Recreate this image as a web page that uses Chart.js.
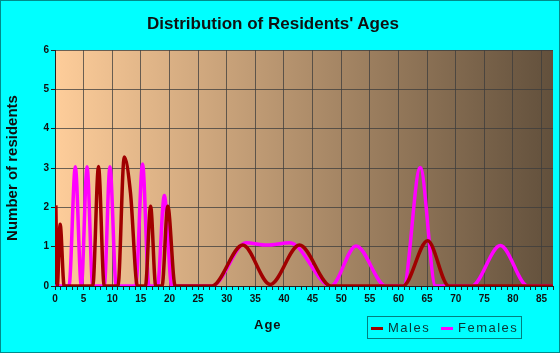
<!DOCTYPE html>
<html>
<head>
<meta charset="utf-8">
<script src="https://cdn.jsdelivr.net/npm/chart.js@4.4.1/dist/chart.umd.min.js"></script>
<style>
  html, body { margin: 0; padding: 0; }
  #frame {
    position: relative;
    width: 560px; height: 353px;
    box-sizing: border-box;
    border: 1px solid #008b8b;
    background: #00ffff;
    font-family: "Liberation Sans", Arial, sans-serif;
    overflow: hidden;
  }
  #chart { position: absolute; left: 0; top: 0; }
  .title {
    position: absolute; left: 0; width: 544px; top: 13px;
    text-align: center; font-weight: bold; font-size: 17px; color: #111;
  }
  .xtitle {
    position: absolute; left: 253px; top: 316px;
    font-weight: bold; font-size: 13px; letter-spacing: 1px; color: #111;
  }
  .legend {
    position: absolute; left: 366px; top: 315px; width: 155px; height: 23px;
    box-sizing: border-box; border: 1px solid #008080;
    font-size: 13px; letter-spacing: 1.5px; color: #0b3535;
  }
  .legend span { position: absolute; top: 3px; }
  .legend i { position: absolute; top: 10px; width: 12px; height: 3px; }
</style>
</head>
<body>
<div id="frame">
  <canvas id="chart" width="560" height="353"></canvas>
  <div class="title">Distribution of Residents' Ages</div>
  <div class="xtitle">Age</div>
  <div class="legend">
    <i style="left:3px;background:#a00000"></i><span style="left:20px">Males</span>
    <i style="left:73px;background:#ff00ff"></i><span style="left:90px">Females</span>
  </div>
</div>
<script>
// Data (age, number of residents)
const maleAges = [0.15, 0.4, 0.9, 1.6, 6.6, 7.6, 8.6, 11.0, 12.1, 13.2, 14.4, 15.8, 16.7, 17.6, 18.7, 19.7, 21.0,
                  27.4, 32.8, 37.6, 42.7, 48.2, 60.8, 65.1, 68.8, 87];
const maleCounts = [2.05, 0, 1.57, 0, 0, 3.04, 0, 0, 3.28, 2.35, 0, 0, 2.03, 0, 0, 2.03, 0,
                    0, 1.04, 0.04, 1.04, 0, 0, 1.15, 0, 0];

const femaleAges = [0, 2.45, 3.55, 4.6, 5.6, 6.6, 8.6, 9.6, 10.7, 14.1, 15.3, 16.4, 17.9, 19.1, 20.4,
                    27.4, 33.4, 37, 41, 48.2, 52.6, 57.8, 60.9, 63.8, 66.5, 72.8, 77.8, 82.6, 87];
const femaleCounts = [0, 0, 3.03, 0, 3.03, 0, 0, 3.03, 0, 0, 3.1, 0, 0, 2.3, 0,
                      0, 1.1, 1.04, 1.1, 0, 1.02, 0, 0, 3.01, 0, 0, 1.03, 0, 0];

const X_MAX = 87;
const Y_MAX = 6;

const toPoints = (xs, ys) => xs.map((x, i) => ({ x: x, y: ys[i] }));

// Plot area gradient background
const plotBackground = {
    id: 'plotBackground',
    beforeDraw(chart) {
        const { ctx, chartArea: a } = chart;
        const g = ctx.createLinearGradient(a.left, 0, a.right, 0);
        g.addColorStop(0, '#fecd9a');
        g.addColorStop(1, '#62503c');
        ctx.save();
        ctx.fillStyle = g;
        ctx.fillRect(a.left, a.top, a.right - a.left, a.bottom - a.top);
        ctx.restore();
    }
};

const tickFont = { family: '"Liberation Sans", Arial, sans-serif', size: 10, weight: 'bold' };

new Chart(document.getElementById('chart').getContext('2d'), {
    type: 'line',
    data: {
        datasets: [
            {
                label: 'Males',
                data: toPoints(maleAges, maleCounts),
                borderColor: '#a00000',
                borderWidth: 3.5,
                cubicInterpolationMode: 'monotone',
                pointRadius: 0,
                fill: false
            },
            {
                label: 'Females',
                data: toPoints(femaleAges, femaleCounts),
                borderColor: '#ff00ff',
                borderWidth: 3.5,
                cubicInterpolationMode: 'monotone',
                pointRadius: 0,
                fill: false
            }
        ]
    },
    options: {
        responsive: false,
        animation: false,
        layout: { padding: { top: 49, right: 8, left: 0, bottom: 0 } },
        plugins: {
            legend: { display: false },
            tooltip: { enabled: false }
        },
        scales: {
            x: {
                type: 'linear',
                min: 0,
                max: X_MAX,
                afterFit: s => { s.height = 68; },
                ticks: {
                    stepSize: 1,
                    autoSkip: false,
                    maxRotation: 0,
                    color: '#111',
                    font: tickFont,
                    padding: 3,
                    callback: v => (v % 5 === 0 ? v : '')
                },
                grid: {
                    color: c => (c.tick && c.tick.value % 5 === 0 ? 'rgba(60,60,60,0.75)' : 'rgba(0,0,0,0)'),
                    tickColor: '#222',
                    tickLength: 4,
                    lineWidth: 1
                },
                border: { color: '#222', width: 1 }
            },
            y: {
                min: 0,
                max: Y_MAX,
                afterFit: s => { s.width = 54; },
                ticks: {
                    stepSize: 1,
                    color: '#111',
                    font: tickFont,
                    padding: 2
                },
                grid: {
                    color: 'rgba(60,60,60,0.75)',
                    tickColor: '#222',
                    tickLength: 4
                },
                border: { color: '#222', width: 1 },
                title: {
                    display: true,
                    text: 'Number of residents',
                    color: '#111',
                    font: { family: '"Liberation Sans", Arial, sans-serif', size: 15, weight: 'bold' },
                    padding: { top: 3, bottom: 0 }
                }
            }
        }
    },
    plugins: [plotBackground]
});
</script>
</body>
</html>
